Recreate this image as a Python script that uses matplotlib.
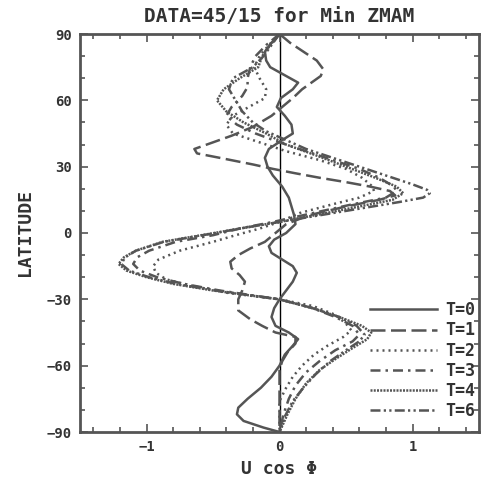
import numpy as np
import matplotlib
matplotlib.use("Agg")
import matplotlib.pyplot as plt
from matplotlib.ticker import MultipleLocator

# latitude / U cos(phi) pairs, one curve per time
lat_t0 = [90, 86, 82, 78, 75, 71, 68, 65, 61, 57, 53, 49, 45, 42, 38, 34, 30, 26, 21, 16, 12, 8, 4, 0,
          -3, -6, -9, -12, -15, -18, -22, -26, -30, -34, -38, -42, -45, -48, -51, -55, -60, -65, -70,
          -75, -79, -82, -85, -88, -90]
u_t0 = [0, -0.06, -0.11, -0.1, -0.07, 0.05, 0.14, 0.1, 0.01, -0.02, 0.04, 0.09, 0.1, 0.02, -0.08, -0.11,
        -0.09, -0.05, 0.02, 0.07, 0.09, 0.11, 0.12, 0.05, -0.04, -0.08, -0.06, 0.02, 0.1, 0.13, 0.1, 0.05,
        0.0, -0.04, -0.06, -0.03, 0.07, 0.14, 0.1, 0.04, 0.0, -0.06, -0.14, -0.24, -0.31, -0.32, -0.27,
        -0.12, 0]

lat_t1 = [90, 86, 82, 78, 74, 71, 68, 65, 61, 57, 53, 48, 44, 41, 38, 36, 34, 31, 29, 27, 25, 23, 21, 19,
          17, 15, 12, 8, 4, 0, -4, -7, -10, -13, -16, -19, -22, -26, -30, -35, -39, -42, -45, -47, -50,
          -54, -58, -62, -70, -80, -90]
u_t1 = [0, 0.08, 0.18, 0.28, 0.33, 0.31, 0.24, 0.17, 0.1, 0.02, -0.06, -0.2, -0.36, -0.5, -0.64, -0.62,
        -0.45, -0.2, -0.05, 0.12, 0.3, 0.5, 0.68, 0.83, 0.87, 0.75, 0.5, 0.22, 0.05, -0.03, -0.11, -0.22,
        -0.31, -0.37, -0.36, -0.3, -0.26, -0.28, -0.31, -0.31, -0.22, -0.13, -0.03, 0.12, 0.12, 0.06,
        0.02, 0.0, 0.0, 0.0, 0]

lat_t2 = [90, 85, 80, 75, 70, 65, 61, 57, 53, 49, 45, 41, 37, 33, 29, 25, 21, 19, 16, 13, 9, 5, 2, -1,
          -4, -8, -12, -15, -18, -21, -24, -27, -30, -33, -37, -41, -44, -47, -51, -55, -60, -65, -70,
          -76, -90]
u_t2 = [0, -0.08, -0.15, -0.19, -0.15, -0.1, -0.11, -0.23, -0.35, -0.4, -0.35, -0.15, 0.05, 0.3, 0.5,
        0.62, 0.7, 0.71, 0.6, 0.4, 0.15, 0.0, -0.15, -0.33, -0.5, -0.75, -0.91, -0.95, -0.93, -0.85,
        -0.65, -0.4, 0.0, 0.25, 0.42, 0.5, 0.54, 0.48, 0.36, 0.26, 0.17, 0.1, 0.05, 0.0, 0]

lat_t3 = [90, 85, 80, 75, 70, 66, 62, 57, 53, 49, 45, 41, 37, 33, 29, 25, 21, 19, 16, 13, 9, 5, 2, -1,
          -4, -8, -11, -14, -17, -20, -23, -26, -30, -34, -38, -42, -46, -49, -53, -58, -63, -69, -75,
          -82, -90]
u_t3 = [0, -0.1, -0.18, -0.22, -0.24, -0.24, -0.28, -0.36, -0.4, -0.32, -0.18, 0.0, 0.2, 0.4, 0.6, 0.75,
        0.86, 0.88, 0.8, 0.55, 0.25, -0.05, -0.3, -0.5, -0.78, -0.98, -1.07, -1.1, -1.05, -0.92, -0.72,
        -0.45, 0.0, 0.25, 0.42, 0.55, 0.6, 0.55, 0.42, 0.3, 0.2, 0.12, 0.07, 0.03, 0]

lat_t4 = [90, 85, 80, 75, 70, 65, 60, 55, 50, 45, 40, 35, 30, 25, 21, 18, 15, 12, 9, 5, 2, 0, -4, -8,
          -11, -14, -17, -20, -23, -26, -30, -34, -38, -42, -45, -48, -52, -57, -62, -68, -75, -82, -90]
u_t4 = [0, -0.07, -0.13, -0.16, -0.3, -0.42, -0.47, -0.4, -0.27, -0.1, 0.05, 0.28, 0.5, 0.72, 0.88, 0.93,
        0.85, 0.6, 0.35, 0.0, -0.3, -0.49, -0.88, -1.08, -1.17, -1.21, -1.15, -1.0, -0.8, -0.5, 0.0,
        0.25, 0.45, 0.62, 0.69, 0.66, 0.55, 0.42, 0.3, 0.2, 0.12, 0.06, 0]

lat_t6 = [90, 85, 80, 75, 70, 65, 60, 55, 50, 46, 42, 38, 34, 30, 26, 22, 19.5, 18, 16, 14, 11, 8, 5, 2,
          0, -4, -8, -11, -14, -17, -20, -23, -26, -30, -34, -38, -42, -46, -49, -53, -58, -64, -70, -76,
          -83, -90]
u_t6 = [0, -0.06, -0.12, -0.2, -0.35, -0.38, -0.33, -0.28, -0.2, -0.1, 0.05, 0.2, 0.4, 0.6, 0.8, 1.0,
        1.11, 1.13, 1.08, 0.9, 0.6, 0.3, 0.0, -0.3, -0.48, -0.87, -1.08, -1.16, -1.19, -1.13, -0.98,
        -0.78, -0.48, 0.0, 0.25, 0.45, 0.58, 0.64, 0.6, 0.5, 0.38, 0.27, 0.18, 0.1, 0.04, 0]

labels = ["T=0", "T=1", "T=2", "T=3", "T=4", "T=6"]

gray = "#555555"
mono = "DejaVu Sans Mono"

fig = plt.figure(figsize=(4.9, 4.84), dpi=100)
ax = fig.add_axes([80 / 490, 1 - 432 / 484, 399 / 490, 398 / 484])

series = [(u_t0, lat_t0, "-"),
          (u_t1, lat_t1, (0, (6, 2.2))),
          (u_t2, lat_t2, (0, (0.8, 1.6))),
          (u_t3, lat_t3, (0, (4, 2, 1, 2))),
          (u_t4, lat_t4, (0, (0.8, 0.5))),
          (u_t6, lat_t6, (0, (4, 1.3, 0.9, 1.3, 0.9, 1.3)))]
for (u, lat, ls), lab in zip(series, labels):
    ax.plot(u, lat, color=gray, lw=1.8, ls=ls, label=lab)

ax.axvline(0, color="black", lw=1.0, zorder=1)

ax.set_xlim(-1.5, 1.5)
ax.set_ylim(-90, 90)
ax.xaxis.set_major_locator(MultipleLocator(1))
ax.xaxis.set_minor_locator(MultipleLocator(0.2))
ax.yaxis.set_major_locator(MultipleLocator(30))
ax.yaxis.set_minor_locator(MultipleLocator(10))
ax.tick_params(which="both", direction="in", top=True, right=True, color=gray, width=1.2)
ax.tick_params(which="major", length=6, labelsize=10, labelcolor="#333333", pad=6)
ax.tick_params(which="minor", length=3.5)
for t in ax.get_xticklabels() + ax.get_yticklabels():
    t.set_fontweight("bold")
    t.set_family(mono)
for s in ax.spines.values():
    s.set_color(gray)
    s.set_linewidth(2)

ax.set_title("DATA=45/15 for Min ZMAM", family=mono, fontweight="bold", fontsize=14,
             color="#333333", pad=9)
ax.set_xlabel("U cos \u03a6", family=mono, fontweight="bold", fontsize=13, color="#333333", labelpad=4)
ax.set_ylabel("LATITUDE", family=mono, fontweight="bold", fontsize=13, color="#333333", labelpad=9)

leg = ax.legend(loc="lower right", bbox_to_anchor=(0.99, 0.03), frameon=False, handlelength=4.0,
                handletextpad=0.5, labelspacing=0.13, borderaxespad=0.0, borderpad=0.0,
                prop={"family": mono, "weight": "bold", "size": 12})
for t in leg.get_texts():
    t.set_color("#333333")

fig.savefig("out.png", dpi=100)
